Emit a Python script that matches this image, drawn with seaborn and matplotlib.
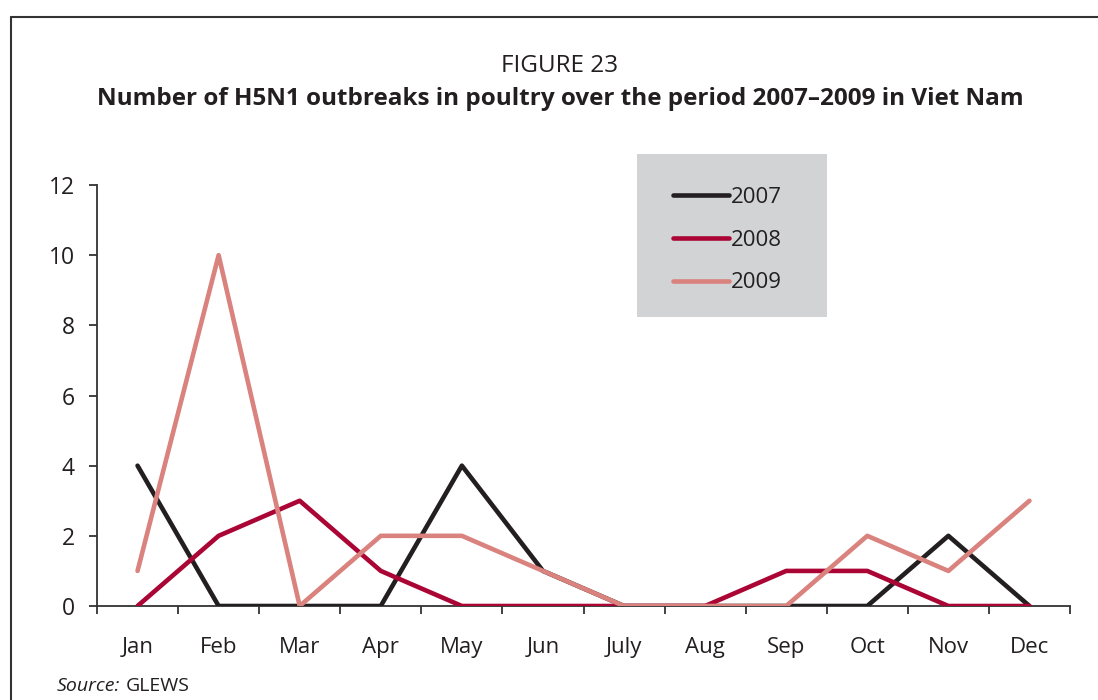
import matplotlib
matplotlib.use("Agg")
import matplotlib.pyplot as plt
import seaborn as sns
import pandas as pd
import numpy as np
from matplotlib.lines import Line2D
from matplotlib.patches import Rectangle

months = ["Jan", "Feb", "Mar", "Apr", "May", "Jun", "July", "Aug", "Sep", "Oct", "Nov", "Dec"]
outbreaks_2007 = [4, 0, 0, 0, 4, 1, 0, 0, 0, 0, 2, 0]
outbreaks_2008 = [0, 2, 3, 1, 0, 0, 0, 0, 1, 1, 0, 0]
outbreaks_2009 = [1, 10, 0, 2, 2, 1, 0, 0, 0, 2, 1, 3]
years = ["2007", "2008", "2009"]
y_ticks = [0, 2, 4, 6, 8, 10, 12]

colors = {"2007": "#231f20", "2008": "#aa0535", "2009": "#d9827e"}

rows = []
for year, vals in zip(years, [outbreaks_2007, outbreaks_2008, outbreaks_2009]):
    for i, v in enumerate(vals):
        rows.append({"month": i, "count": v, "year": year})
df = pd.DataFrame(rows)

sns.set_theme(style="ticks")
plt.rcParams["font.family"] = ["Open Sans", "DejaVu Sans"]
plt.rcParams["text.color"] = "#231f20"

fig = plt.figure(figsize=(10.98, 7.0), dpi=100)
W, H = 1098, 700
ax = fig.add_axes([97 / W, 1 - 606 / H, (1070 - 97) / W, (606 - 185) / H])

sns.lineplot(data=df, x="month", y="count", hue="year", palette=colors,
             linewidth=3.3, ax=ax, legend=False, zorder=3)

ax.set_xlim(-0.5, 11.5)
ax.set_ylim(0, 12)
ax.set_yticks(y_ticks)
ax.set_yticklabels([str(t) for t in y_ticks], fontsize=16.5)
ax.set_xticks(range(12))
ax.set_xticklabels(months, fontsize=16)
ax.set_xticks(np.arange(-0.5, 12, 1), minor=True)
ax.tick_params(axis="x", which="major", length=0, pad=22.5, colors="#231f20")
ax.tick_params(axis="x", which="minor", length=6, width=1.3, direction="out", color="#333333")
ax.tick_params(axis="y", which="major", length=6, width=1.3, direction="out", pad=10,
               color="#333333", labelcolor="#231f20")
ax.set_xlabel("")
ax.set_ylabel("")
for s in ["top", "right"]:
    ax.spines[s].set_visible(False)
for s in ["left", "bottom"]:
    ax.spines[s].set_color("#333333")
    ax.spines[s].set_linewidth(1.3)
ax.set_facecolor("none")

# outer frame (left and top edges)
fig.add_artist(Line2D([11 / W, 11 / W], [0, 1 - 17 / H], transform=fig.transFigure,
                      color="#333333", linewidth=1.5))
fig.add_artist(Line2D([11 / W, 1.0], [1 - 17 / H, 1 - 17 / H], transform=fig.transFigure,
                      color="#333333", linewidth=1.5))

# titles
fig.text(560 / W, 1 - 66 / H, "FIGURE 23", ha="center", va="center", fontsize=17.5)
fig.text(560 / W, 1 - 99 / H,
         "Number of H5N1 outbreaks in poultry over the period 2007\u20132009 in Viet Nam",
         ha="center", va="center", fontsize=17.5, fontweight="bold")

# legend on a grey panel
fig.add_artist(Rectangle((637 / W, 1 - 317 / H), (827 - 637) / W, (317 - 154) / H,
                         transform=fig.transFigure, facecolor="#d1d3d4",
                         edgecolor="none", zorder=1))
handles = [Line2D([], [], color=colors[y], linewidth=3.3) for y in years]
fig.legend(handles, years, loc="center left",
           bbox_to_anchor=(673 / W, 1 - 240 / H), frameon=False, fontsize=16,
           handlelength=2.5, handletextpad=0.1, labelspacing=0.98, borderpad=0,
           borderaxespad=0)

# source note
fig.text(57 / W, 1 - 686 / H, "Source:", ha="left", va="center", fontsize=14, style="italic")
fig.text(126 / W, 1 - 686 / H, "GLEWS", ha="left", va="center", fontsize=14)

fig.savefig("out.png", dpi=100)
